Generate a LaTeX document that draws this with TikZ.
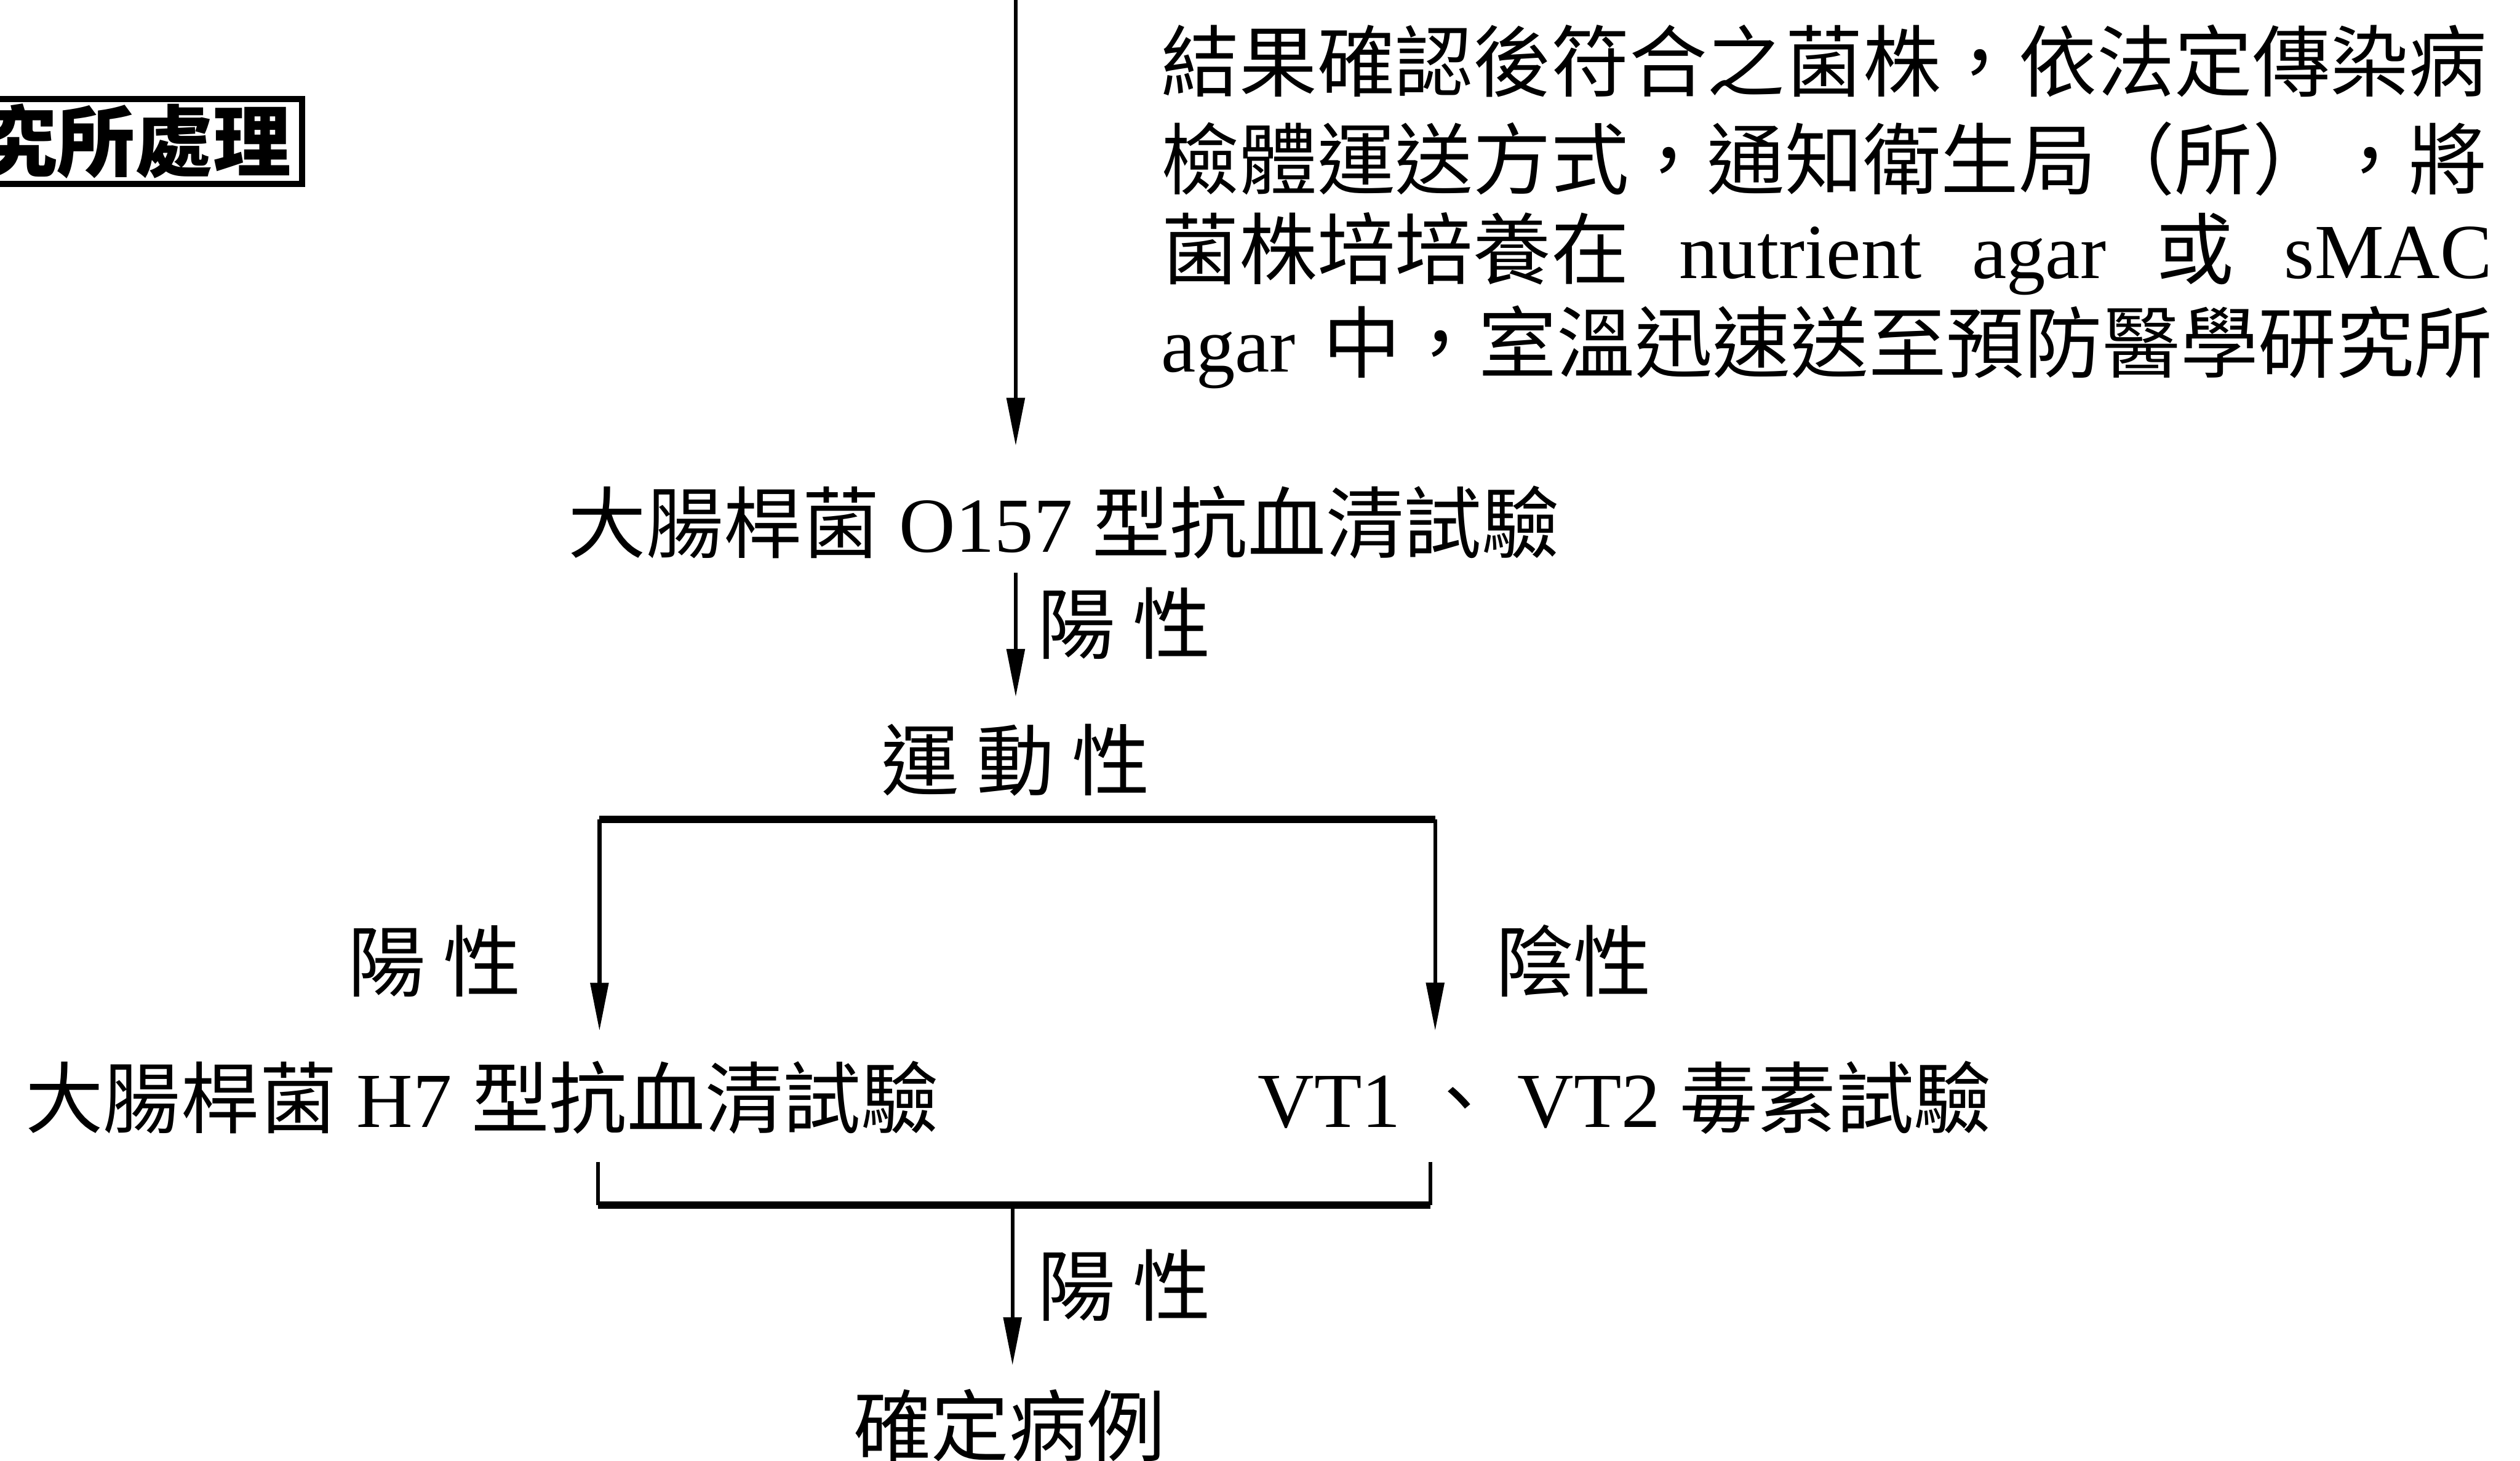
\documentclass[tikz,border=0pt]{standalone}
\usepackage{fontspec}
\setmainfont{Liberation Serif}
\newfontfamily\cjk{Noto Sans CJK TC}
\newfontfamily\cjkbox{Noto Sans CJK TC}
\usetikzlibrary{arrows.meta}
\begin{document}
\begin{tikzpicture}[x=0.1mm,y=-0.1mm,
  lbl/.style={inner sep=0pt, font=\fontsize{13.8pt}{16pt}\selectfont},
  arr/.style={-{Triangle[length=3mm,width=1.1mm]}, line width=0.7pt},
  thin/.style={line width=0.7pt},
  bar/.style={line width=1.3pt}]
\useasboundingbox (0,0) rectangle (1568,909);

% boxed heading, cut by the left edge
\node[lbl, draw, line width=1.1pt, inner xsep=0.7mm, minimum height=5.3mm, anchor=east] (box) at (190,88) {\cjkbox\bfseries 究所處理};

% paragraph at top right
\node[lbl, anchor=west] (l1) at (722,38) {\makebox[82.8mm][s]{\cjk 結果確認後符合之菌株，依法定傳染病}};
\node[lbl, anchor=west] (l2) at (722,99) {\makebox[82.8mm][s]{\cjk 檢體運送方式，通知衛生局（所），將}};
\node[lbl, anchor=west] (l3) at (722,158) {\makebox[82.8mm][s]{{\cjk 菌株培培養在} nutrient agar {\cjk 或} sMAC}};
\node[lbl, anchor=west] (l4) at (722,216) {\makebox[82.8mm][s]{agar {\cjk 中，室溫迅速送至預防醫學研究所}}};

% main nodes
\node[lbl] (o157) at (662,325) {{\cjk 大腸桿菌} O157 {\cjk 型抗血清試驗}};
\node[lbl] (motil) at (632,473) {\cjk 運 動 性};
\node[lbl] (h7) at (300,683) {{\cjk 大腸桿菌} H7 {\cjk 型抗血清試驗}};
\node[lbl, anchor=west] (vt) at (782,683) {VT1 {\cjk 、} VT2 {\cjk 毒素試驗}};
\node[lbl] (final) at (628,887) {\cjk 確定病例};

% edge labels
\node[lbl, anchor=west] (pos1) at (645,388) {\cjk 陽 性};
\node[lbl, anchor=east] (pos2) at (325,598) {\cjk 陽 性};
\node[lbl, anchor=west] (neg) at (930,598) {\cjk 陰性};
\node[lbl, anchor=west] (pos3) at (645,800) {\cjk 陽 性};

% connectors
\coordinate (top) at (632,-10);
\draw[arr, shorten >=2.4mm] (top) -- (top |- o157.north);
\draw[arr, shorten <=0.8mm, shorten >=1.6mm] (o157.south -| motil.north) -- (motil.north);

\coordinate (sl) at (373,510);
\coordinate (sr) at (893,510);
\draw[bar] (sl) -- (sr);
\draw[arr, shorten >=1.8mm] (sl) -- (sl |- h7.north);
\draw[arr, shorten >=1.8mm] (sr) -- (sr |- vt.north);

\coordinate (jl) at (372,723);
\coordinate (jr) at (890,723);
\coordinate (jm) at (630,750);
\draw[thin] (jl) -- (jl |- jm);
\draw[thin] (jr) -- (jr |- jm);
\draw[bar] (jl |- jm) -- (jr |- jm);
\draw[arr, shorten >=1.4mm] (jm) -- (jm |- final.north);
\end{tikzpicture}
\end{document}
